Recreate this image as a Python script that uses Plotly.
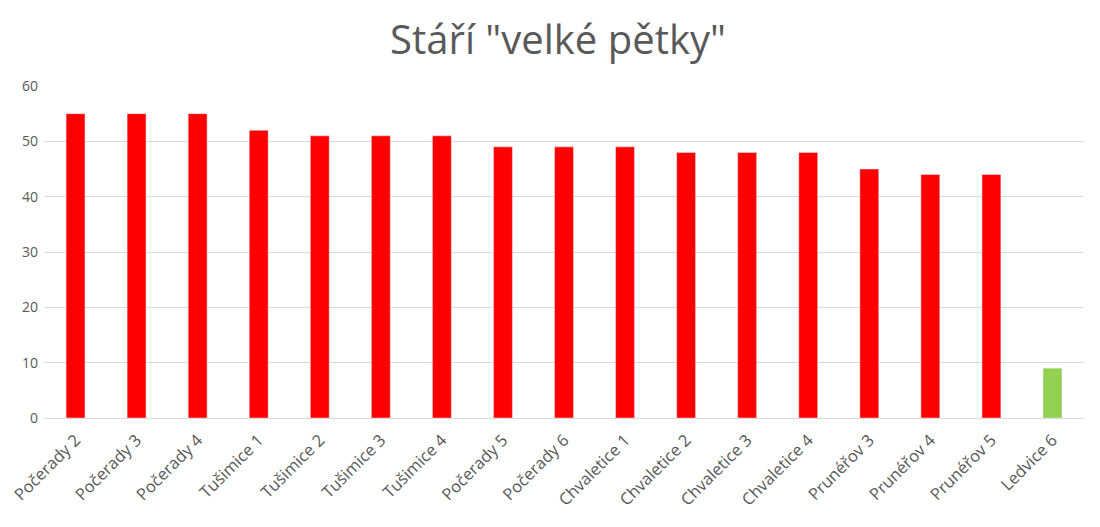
import plotly.graph_objects as go

bloky = ["Počerady 2", "Počerady 3", "Počerady 4", "Tušimice 1", "Tušimice 2",
         "Tušimice 3", "Tušimice 4", "Počerady 5", "Počerady 6", "Chvaletice 1",
         "Chvaletice 2", "Chvaletice 3", "Chvaletice 4", "Prunéřov 3",
         "Prunéřov 4", "Prunéřov 5", "Ledvice 6"]
stari = [55, 55, 55, 52, 51, 51, 51, 49, 49, 49, 48, 48, 48, 45, 44, 44, 9]
barvy = ["#FF0000"] * 16 + ["#92D050"]

fig = go.Figure(go.Bar(x=bloky, y=stari, marker_color=barvy, width=0.31))

# stranka ma okraj 8px, proto posunute okraje
fig.update_layout(
    width=1100, height=527,
    title=dict(text='Stáří "velké pětky"', x=0.5, xanchor="center", y=0.94, yanchor="middle",
               font=dict(size=40, color="#595959", family="Open Sans")),
    font=dict(family="Open Sans", color="#595959", size=16),
    plot_bgcolor="white", paper_bgcolor="white",
    margin=dict(l=37, r=25, t=78, b=117, autoexpand=False),
    bargap=0.69,
    showlegend=False,
)
fig.update_xaxes(tickangle=-45, showline=True, linecolor="#D9D9D9", linewidth=1,
                 tickfont=dict(size=16.5), ticklabelstandoff=5, automargin=False)
fig.update_yaxes(range=[0, 60], dtick=10, gridcolor="#D9D9D9", zeroline=False,
                 tickfont=dict(size=14), ticklabelstandoff=6, automargin=False)

fig.write_html("out.html")
